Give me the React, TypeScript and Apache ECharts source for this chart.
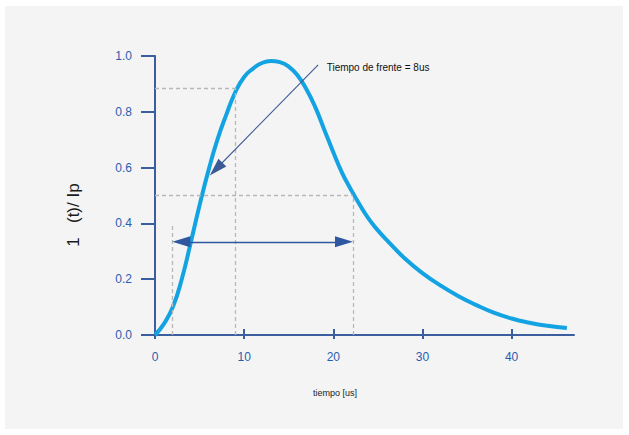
import React, { useEffect, useRef } from "react";
import * as echarts from "echarts";

// Curve: I(t)/Ip vs tiempo [us]
const timeUs = [0, 1, 2, 3, 4, 5, 6, 7, 8, 9, 10, 11, 12, 13, 14, 15, 16, 17, 18, 19, 20, 21, 22, 23, 24, 25, 26, 28, 30, 32, 34, 36, 38, 40, 42, 44, 46.2];
const currentRatio = [0, 0.04, 0.1, 0.2, 0.33, 0.465, 0.59, 0.7, 0.79, 0.87, 0.925, 0.955, 0.975, 0.982, 0.978, 0.962, 0.93, 0.88, 0.815, 0.735, 0.655, 0.58, 0.52, 0.465, 0.415, 0.375, 0.34, 0.275, 0.222, 0.178, 0.14, 0.108, 0.08, 0.059, 0.044, 0.033, 0.025];

// Annotation values (arrow shaft ends; arrow heads extend ~1 us beyond)
const t10 = 1.95;      // 10% point
const t90 = 9.0;       // 90% point
const v90 = 0.885;
const tHalf = 22.2;    // half value on tail
const vHalf = 0.5;
const vDoubleArrow = 0.334;
const vLeftDashTop = 0.4;
const headHalf = 1.0;
const frontArrowFrom = [18.3, 0.968];
const frontArrowTo = [6.85, 0.595];
const frontLabelAt = [18.7, 0.957];
const frontLabel = "Tiempo de frente = 8us";

const xTicks = { min: 0, max: 47, interval: 10 };
const xTickValues = [0, 10, 20, 30, 40];
const yTicks = { min: 0, max: 1.0, interval: 0.2 };

const yTitle = "1   (t)/ Ip";
const xTitle = "tiempo [us]";

export default function App() {
  const ref = useRef<HTMLDivElement>(null);
  useEffect(() => {
    if (!ref.current) return;
    const chart = echarts.init(ref.current, null, { renderer: "svg" });
    const axisColor = "#3b5e9e";
    const labelColor = "#2a5db0";
    const dash = { type: [4, 3] as any, color: "#b8b8b8", width: 1.3 };
    const arrowLine = { type: "solid" as any, color: "#2f57a0", width: 1.4 };
    const seg = (a: number[], b: number[], style: any, s0 = "none", s1 = "none") => [
      { coord: a, symbol: s0, lineStyle: style },
      { coord: b, symbol: s1, lineStyle: style },
    ];
    chart.setOption({
      animation: false,
      backgroundColor: "#ffffff",
      graphic: [
        { type: "rect", z: -10, silent: true, shape: { x: 5, y: 6, width: 618, height: 423 }, style: { fill: "#f4f4f4" } },
        {
          type: "text", x: 73, y: 215, rotation: Math.PI / 2,
          style: { text: yTitle, fill: "#1a1a1a", font: "17px 'Liberation Sans', Arial, sans-serif", align: "center", verticalAlign: "middle" },
        },
        {
          type: "text", x: 335, y: 393,
          style: { text: xTitle, fill: "#1a1a1a", font: "9px 'Liberation Sans', Arial, sans-serif", align: "center", verticalAlign: "middle" },
        },
      ],
      grid: { left: 155, top: 56, width: 419, height: 279, containLabel: false },
      xAxis: [
        {
          type: "value", ...xTicks, position: "bottom",
          axisLine: { lineStyle: { color: axisColor, width: 2 } },
          axisTick: { show: true, length: 4, customValues: xTickValues, lineStyle: { color: axisColor, width: 2 } },
          axisLabel: { color: labelColor, fontSize: 12, margin: 16, customValues: xTickValues, fontFamily: "'Liberation Sans', Arial, sans-serif" },
          splitLine: { show: false },
        },
        {
          type: "value", ...xTicks, position: "bottom", gridIndex: 0,
          axisLine: { show: false },
          axisTick: { show: true, inside: true, length: 6, customValues: xTickValues, lineStyle: { color: axisColor, width: 2 } },
          axisLabel: { show: false },
          splitLine: { show: false },
        },
      ],
      yAxis: {
        type: "value", ...yTicks,
        axisLine: { show: true, lineStyle: { color: axisColor, width: 2 } },
        axisTick: { show: true, length: 14, lineStyle: { color: axisColor, width: 2 } },
        axisLabel: { color: labelColor, fontSize: 12, margin: 23, formatter: (v: number) => v.toFixed(1), fontFamily: "'Liberation Sans', Arial, sans-serif" },
        splitLine: { show: false },
      },
      series: [
        {
          type: "line",
          xAxisIndex: 0,
          data: timeUs.map((t, i) => [t, currentRatio[i]]),
          smooth: true,
          showSymbol: false,
          lineStyle: { color: "#14a3e2", width: 4 },
          z: 3,
          markLine: {
            silent: true,
            animation: false,
            label: { show: false },
            symbolSize: [11, 18],
            data: [
              seg([0, v90], [t90, v90], dash),
              seg([t90, 0], [t90, v90], dash),
              seg([0, vHalf], [tHalf, vHalf], dash),
              seg([tHalf, 0], [tHalf, vHalf], dash),
              seg([t10, 0], [t10, vLeftDashTop], dash),
              seg([t10 + headHalf, vDoubleArrow], [tHalf - headHalf, vDoubleArrow], arrowLine, "triangle", "triangle"),
              seg(frontArrowFrom, frontArrowTo, { ...arrowLine, width: 1.1, color: "#3b5a95" }, "none", "triangle"),
            ],
            itemStyle: { color: "#0d4096" },
          },
          markPoint: {
            silent: true,
            symbol: "circle",
            symbolSize: 0,
            data: [
              {
                coord: frontLabelAt,
                label: { show: true, position: "right", distance: 5, formatter: frontLabel, color: "#111", fontSize: 10, fontFamily: "'Liberation Sans', Arial, sans-serif" },
              },
            ],
          },
        },
      ],
    });
    return () => chart.dispose();
  }, []);
  return <div ref={ref} style={{ position: "fixed", left: 0, top: 0, width: 629, height: 435 }} />;
}
